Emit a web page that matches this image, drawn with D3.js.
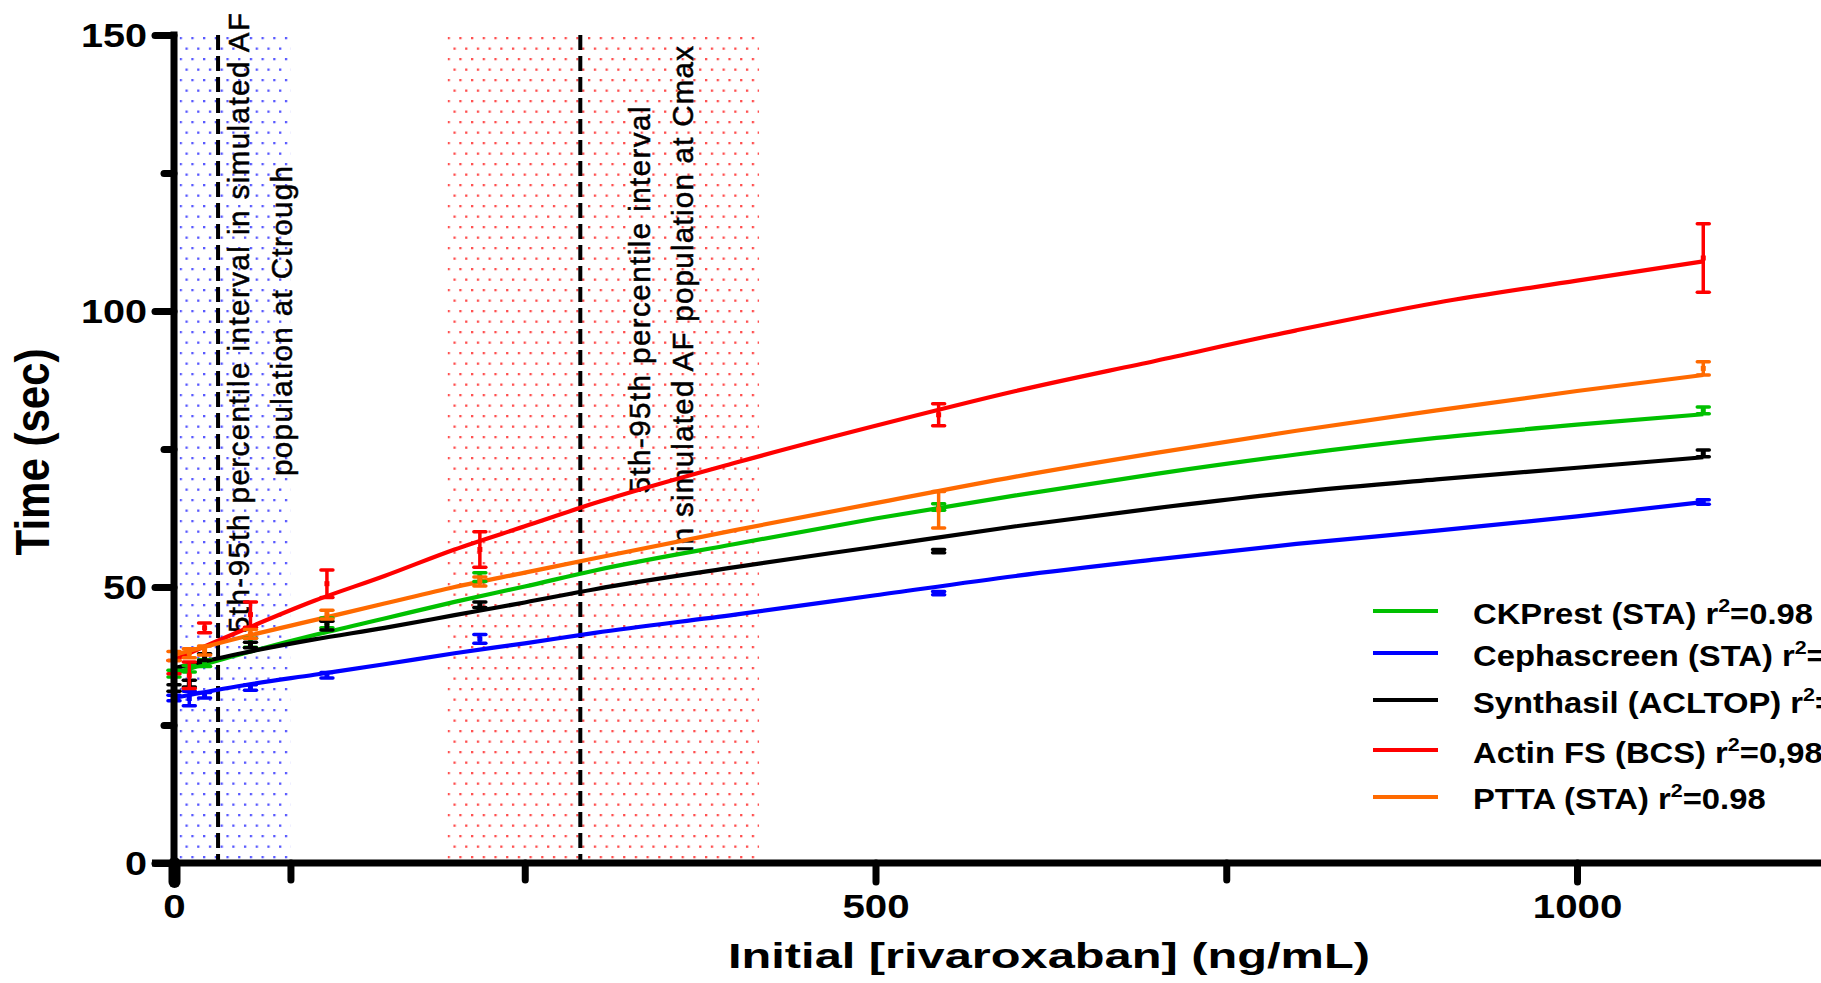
<!DOCTYPE html>
<html><head><meta charset="utf-8">
<script src="https://cdn.jsdelivr.net/npm/d3@7"></script>
<style>
body{margin:0;background:#fff;overflow:hidden}
svg{display:block}
text{font-family:"Liberation Sans",Arial,Helvetica,sans-serif;fill:#000}
</style>
</head><body>
<svg id="c" width="1821" height="983"></svg>
<script>
// ---------------- DATA ----------------
const concentrations = [0, 10.9, 21.8, 54.5, 109, 218, 545, 1090];

const seriesNames = ["CKPrest (STA)", "Cephascreen (STA)", "Synthasil (ACLTOP)", "Actin FS (BCS)", "PTTA (STA)"];
const seriesR2 = ["=0.98", "=0.98", "=0.98", "=0,98", "=0.98"];
const seriesColors = ["#00c000", "#0000ff", "#000000", "#ff0000", "#ff6a00"];

const ckprestMean     = [34.3, 35.2, 36.2, 39.9, 43.5, 51.8, 64.5, 82.0];
const ckprestErr      = [0.6, 0.6, 0.6, 0.8, 0.9, 0.8, 0.6, 0.6];
const cephascreenMean = [29.9, 29.8, 30.4, 31.8, 34.0, 40.6, 48.9, 65.4];
const cephascreenErr  = [0.5, 1.3, 0.5, 0.5, 0.5, 0.8, 0.3, 0.4];
const synthasilMean   = [31.7, 32.5, 37.3, 39.5, 43.0, 46.8, 56.5, 74.2];
const synthasilErr    = [0.6, 0.6, 0.6, 0.5, 0.8, 0.5, 0.3, 0.6];
const actinMean       = [35.5, 34.0, 42.6, 45.0, 50.6, 56.8, 81.2, 109.6];
const actinErr        = [1.2, 2.4, 0.9, 2.3, 2.5, 3.2, 2.0, 6.2];
const pttaMean        = [37.5, 38.0, 38.5, 41.5, 45.0, 51.0, 64.0, 89.6];
const pttaErr         = [0.8, 0.8, 0.8, 0.8, 0.8, 0.8, 3.3, 1.2];

// fitted curves
const fitX           = [0, 50, 100, 150, 200, 250, 300, 400, 500, 600, 700, 800, 900, 1000, 1090];
const ckprestFit     = [34.4, 38.0, 41.3, 44.3, 47.3, 50.1, 53.0, 57.8, 62.4, 66.6, 70.5, 74.0, 77.0, 79.4, 81.3];
const cephascreenFit = [29.9, 32.2, 34.1, 36.0, 38.0, 39.8, 41.7, 45.0, 48.5, 52.0, 55.0, 57.8, 60.2, 62.8, 65.4];
const synthasilFit   = [35.3, 38.1, 40.5, 42.6, 44.9, 47.2, 49.6, 53.6, 57.3, 61.0, 64.3, 67.2, 69.5, 71.6, 73.5];
const actinFit       = [36.8, 42.3, 47.5, 52.0, 56.8, 61.0, 65.2, 72.5, 79.2, 85.5, 91.0, 96.5, 101.5, 105.5, 109.0];
const pttaFit        = [37.7, 41.0, 44.0, 47.0, 50.0, 52.6, 55.2, 60.3, 65.2, 70.0, 74.3, 78.3, 82.0, 85.5, 88.4];

// shaded intervals and dashed medians (ng/mL)
const troughRange = [4, 83];
const troughLine = 31.4;
const cmaxRange = [195, 417];
const cmaxLine = 289.6;

const troughText = ["5th-95th percentile interval in simulated AF", "population at Ctrough"];
const cmaxText = ["5th-95th percentile interval", "in simulated AF population at Cmax"];

const yMajorTicks = [0, 50, 100, 150];
const yMinorTicks = [25, 75, 125];
const xMajorTicks = [0, 500, 1000];
const xMinorTicks = [83, 250, 750];

const xTitle = "Initial [rivaroxaban] (ng/mL)";
const yTitle = "Time (sec)";

// ---------------- CHART ----------------
const series = [
  {mean: ckprestMean, err: ckprestErr, fit: ckprestFit},
  {mean: cephascreenMean, err: cephascreenErr, fit: cephascreenFit},
  {mean: synthasilMean, err: synthasilErr, fit: synthasilFit},
  {mean: actinMean, err: actinErr, fit: actinFit},
  {mean: pttaMean, err: pttaErr, fit: pttaFit}
].map((s, i) => Object.assign(s, {name: seriesNames[i], r2: seriesR2[i], color: seriesColors[i]}));

const svg = d3.select("#c");
const x = d3.scaleLinear().domain([0, 1000]).range([174, 1577]);
const y = d3.scaleLinear().domain([0, 150]).range([863, 35]);

const defs = svg.append("defs");
function dotPattern(id, color, x0) {
  const p = defs.append("pattern").attr("id", id)
    .attr("patternUnits", "userSpaceOnUse")
    .attr("x", x0).attr("y", y(150) + 2)
    .attr("width", 11.7).attr("height", 21);
  p.append("rect").attr("x", 0).attr("y", 0).attr("width", 2.3).attr("height", 2.3).attr("fill", color);
  p.append("rect").attr("x", 5.85).attr("y", 10.5).attr("width", 2.3).attr("height", 2.3).attr("fill", color);
}
dotPattern("dotsBlue", "#3a3aff", x(troughRange[0]));
dotPattern("dotsRed", "#ff3030", x(cmaxRange[0]));

// shaded regions
[[troughRange, "url(#dotsBlue)"], [cmaxRange, "url(#dotsRed)"]].forEach(([r, f]) => {
  svg.append("rect")
    .attr("x", x(r[0])).attr("y", y(150))
    .attr("width", x(r[1]) - x(r[0])).attr("height", y(0) - y(150) - 4)
    .attr("fill", f).attr("opacity", 0.85);
});

// dashed lines
[troughLine, cmaxLine].forEach(v => {
  svg.append("line")
    .attr("x1", x(v)).attr("x2", x(v))
    .attr("y1", y(150)).attr("y2", y(0))
    .attr("stroke", "#000").attr("stroke-width", 4)
    .attr("stroke-dasharray", "15,6");
});

// rotated annotations
function vText(str, bx, cy, len, size) {
  svg.append("text")
    .attr("transform", `translate(${bx},${cy}) rotate(-90)`)
    .attr("text-anchor", "middle")
    .attr("font-size", size)
    .attr("stroke", "#000").attr("stroke-width", 0.5)
    .attr("textLength", len).attr("lengthAdjust", "spacing")
    .text(str);
}
vText(troughText[0], 249, 323, 620, 29.5);
vText(troughText[1], 292, 321, 310, 29.5);
vText(cmaxText[0], 650, 300, 387, 29.5);
vText(cmaxText[1], 693, 299, 506, 29.5);

// fitted curves
const line = d3.line().x(d => x(d[0])).y(d => y(d[1])).curve(d3.curveMonotoneX);
series.forEach(s => {
  svg.append("path")
    .datum(fitX.map((v, i) => [v, s.fit[i]]))
    .attr("d", line)
    .attr("fill", "none").attr("stroke", s.color).attr("stroke-width", 4.2)
    .attr("stroke-linejoin", "round");
});

// error bars and points
series.forEach(s => {
  const g = svg.append("g").attr("stroke", s.color).attr("fill", s.color);
  concentrations.forEach((c, i) => {
    const cx = x(c), top = y(s.mean[i] + s.err[i]), bot = y(s.mean[i] - s.err[i]);
    g.append("line").attr("x1", cx).attr("x2", cx).attr("y1", top).attr("y2", bot).attr("stroke-width", 3.5);
    g.append("line").attr("x1", cx - 6).attr("x2", cx + 6).attr("y1", top).attr("y2", top).attr("stroke-width", 3.5).attr("stroke-linecap", "round");
    g.append("line").attr("x1", cx - 6).attr("x2", cx + 6).attr("y1", bot).attr("y2", bot).attr("stroke-width", 3.5).attr("stroke-linecap", "round");
    g.append("rect").attr("x", cx - 2.5).attr("y", y(s.mean[i]) - 2.5).attr("width", 5).attr("height", 5).attr("stroke", "none");
  });
});

// axes
const axisStroke = 7;
const yAxisG = svg.append("g").attr("transform", `translate(${x(0)},0)`)
  .call(d3.axisLeft(y).tickValues(yMajorTicks).tickSize(19).tickFormat(d3.format("d")));
const yMinorG = svg.append("g").attr("transform", `translate(${x(0)},0)`)
  .call(d3.axisLeft(y).tickValues(yMinorTicks).tickSize(10).tickFormat(""));
const xAxisG = svg.append("g").attr("transform", `translate(0,${y(0)})`)
  .call(d3.axisBottom(x).tickValues(xMajorTicks).tickSize(19).tickFormat(d3.format("d")));
const xMinorG = svg.append("g").attr("transform", `translate(0,${y(0)})`)
  .call(d3.axisBottom(x).tickValues(xMinorTicks).tickSize(17).tickFormat(""));

[yAxisG, yMinorG, xAxisG, xMinorG].forEach(g => {
  g.select(".domain").remove();
  g.selectAll(".tick line").attr("stroke", "#000").attr("stroke-width", axisStroke).attr("stroke-linecap", "round");
});
xAxisG.selectAll(".tick").filter(d => d === 0).select("line").attr("stroke-width", 12);

yAxisG.selectAll(".tick text")
  .attr("x", -22.5).attr("dy", "0.36em")
  .attr("transform", "scale(1.2,1)")
  .attr("font-size", 33).attr("font-weight", "bold").attr("font-family", null).attr("fill", "#000");
xAxisG.selectAll(".tick text")
  .attr("y", 55).attr("dy", 0)
  .attr("transform", "scale(1.22,1)")
  .attr("font-size", 33).attr("font-weight", "bold").attr("font-family", null).attr("fill", "#000");

svg.append("line").attr("x1", x(0)).attr("x2", x(0)).attr("y1", y(150) - 3.5).attr("y2", y(0) + 19)
  .attr("stroke", "#000").attr("stroke-width", axisStroke);
svg.append("line").attr("x1", 152).attr("x2", 1821).attr("y1", y(0)).attr("y2", y(0))
  .attr("stroke", "#000").attr("stroke-width", axisStroke);

// axis titles
svg.append("text")
  .attr("x", 1049).attr("y", 968)
  .attr("text-anchor", "middle")
  .attr("font-size", 35).attr("font-weight", "bold")
  .attr("textLength", 642).attr("lengthAdjust", "spacingAndGlyphs")
  .text(xTitle);
svg.append("text")
  .attr("transform", "translate(49,452) scale(1.16,1) rotate(-90)")
  .attr("text-anchor", "middle")
  .attr("font-size", 42).attr("font-weight", "bold")
  .text(yTitle);

// legend
const legendLineY = [611, 653, 700, 750, 797];
const legendTextY = [624, 666, 713, 763, 809];
const legendOrder = [0, 1, 2, 3, 4];
legendOrder.forEach((si, k) => {
  const s = series[si];
  svg.append("line").attr("x1", 1373).attr("x2", 1438)
    .attr("y1", legendLineY[k]).attr("y2", legendLineY[k])
    .attr("stroke", s.color).attr("stroke-width", 4.2);
  svg.append("rect").attr("x", 1403.5).attr("y", legendLineY[k] - 1.5).attr("width", 3).attr("height", 3).attr("fill", s.color);
  const t = svg.append("text")
    .attr("transform", `translate(1473,${legendTextY[k]}) scale(1.13,1)`)
    .attr("font-size", 29).attr("font-weight", "bold");
  t.append("tspan").text(s.name + " r");
  t.append("tspan").attr("font-size", 19).attr("dy", -12).text("2");
  t.append("tspan").attr("dy", 12).text(s.r2);
});
</script>
</body></html>
